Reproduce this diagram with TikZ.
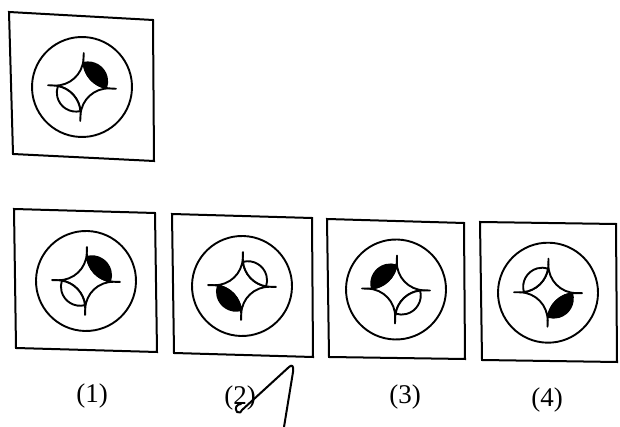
\documentclass[tikz,border=0pt]{standalone}
\usepackage{fontspec}
\setmainfont{Liberation Serif}
\begin{document}
\begin{tikzpicture}[x=1pt,y=1pt,
  figline/.style={line width=1.9pt,line join=round,line cap=round},
  boxline/.style={line width=2pt,line join=miter},
  lbl/.style={inner sep=0pt,scale=2.7}]
\newcommand{\lensshape}[1]{%
  \draw[figline,fill=#1] (0.31,24.15) arc[start angle=106.4,end angle=-16.4,radius=19.2]
    arc[start angle=262,end angle=188,radius=28] -- cycle;}
\newcommand{\figshape}{%
  \draw[figline] (0,0) circle[radius=50];
  \draw[figline] (0,28) arc[start angle=180,end angle=270,radius=28]
    arc[start angle=90,end angle=180,radius=28]
    arc[start angle=0,end angle=90,radius=28]
    arc[start angle=270,end angle=360,radius=28] -- cycle;
  \draw[figline] (0,28)--(0,34) (28,0)--(34,0) (0,-28)--(0,-34) (-28,0)--(-34,0);
  \lensshape{black}
  \begin{scope}[rotate=180]\lensshape{white}\end{scope}}
\useasboundingbox (0,0) rectangle (620,427);
% question figure
\draw[boxline] (9,415) -- (153,407) -- (154,266) -- (13,273) -- cycle;
\begin{scope}[shift={(82,340)},rotate=-3]\figshape\end{scope}
% options
\draw[boxline] (14,218) -- (155,214) -- (157,75) -- (16,79) -- cycle;
\begin{scope}[shift={(86,146)},rotate=-1.6]\figshape\end{scope}
\draw[boxline] (172,213) -- (312,209) -- (313,70) -- (174,74) -- cycle;
\begin{scope}[shift={(242,141)},rotate=178.4]\figshape\end{scope}
\draw[boxline] (327,208) -- (464,204) -- (465,68) -- (329,70) -- cycle;
\begin{scope}[shift={(396,137.5)},rotate=88.3]\figshape\end{scope}
\draw[boxline] (480,205) -- (616,203) -- (617,65) -- (482,67) -- cycle;
\begin{scope}[shift={(548,134.3)},rotate=-90.8]\figshape\end{scope}
% labels
\node[lbl] (l1) at (92,31) {(1)};
\node[lbl] (l2) at (240,29) {(2)};
\node[lbl] (l3) at (405,30) {(3)};
\node[lbl] (l4) at (547,27) {(4)};
% handwritten check mark
\draw[line width=2pt,line cap=round,line join=round]
  (241,23) .. controls (237,23) and (234,19) .. (237,15)
  .. controls (239,13) and (242,15) .. (242,17)
  -- (289,60) .. controls (292,63) and (294,61) .. (293,55)
  -- (284,0);
\end{tikzpicture}
\end{document}
